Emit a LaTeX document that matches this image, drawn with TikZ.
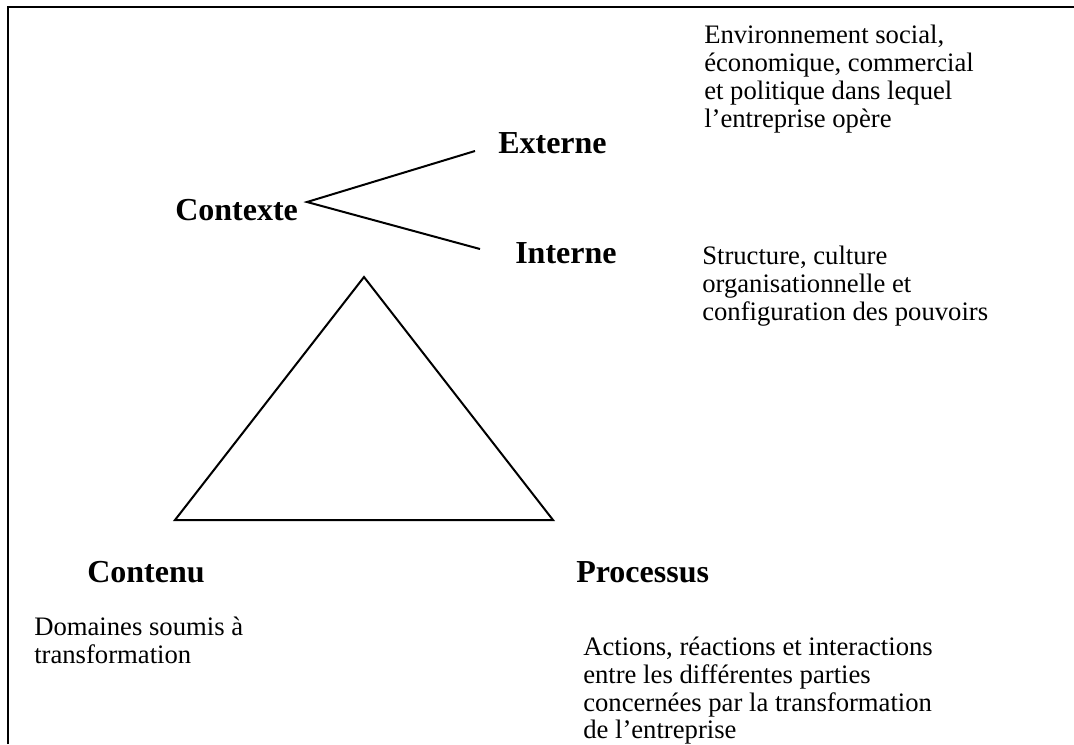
\documentclass[tikz,border=0pt]{standalone}
\usepackage{fontspec}
\setmainfont{Liberation Serif}
\begin{document}
\begin{tikzpicture}[x=0.75pt,y=-0.75pt,
  big/.style={font=\fontsize{24}{28}\selectfont\bfseries,inner sep=0pt,anchor=base west},
  small/.style={font=\fontsize{20}{20.9}\selectfont,inner sep=0pt,anchor=north west,align=left},
  edge/.style={line width=1.5pt,line join=miter}]
\useasboundingbox (0,0) rectangle (1074,744);
\draw[line width=2.2pt] (8,744) -- (8,7) -- (1074,7);
% labels
\node[big] (ctx) at (175,220) {Contexte};
\node[big] (ext) at (498,153) {Externe};
\node[big] (int) at (515,263) {Interne};
\node[big] (cnt) at (87,582) {Contenu};
\node[big] (prc) at (576,582) {Processus};
% descriptions
\node[small] (env) at (704,25) {Environnement social,\\économique, commercial\\et politique dans lequel\\l’entreprise opère};
\node[small] (str) at (702,246) {Structure, culture\\organisationnelle et\\configuration des pouvoirs};
\node[small] (dom) at (34,616.5) {Domaines soumis à\\transformation};
\node[small] (act) at (583,636.5) {Actions, réactions et interactions\\entre les différentes parties\\concernées par la transformation\\de l’entreprise};
% context branches
\coordinate (v) at (307,202);
\coordinate (e1) at (475,151);
\coordinate (i1) at (480,249);
\draw[edge] (e1) -- (v) -- (i1);
% triangle
\coordinate (top) at (364,277);
\coordinate (bl) at (175,520);
\coordinate (br) at (553,520);
\draw[edge] (top) -- (bl) -- (br) -- cycle;
\end{tikzpicture}
\end{document}
